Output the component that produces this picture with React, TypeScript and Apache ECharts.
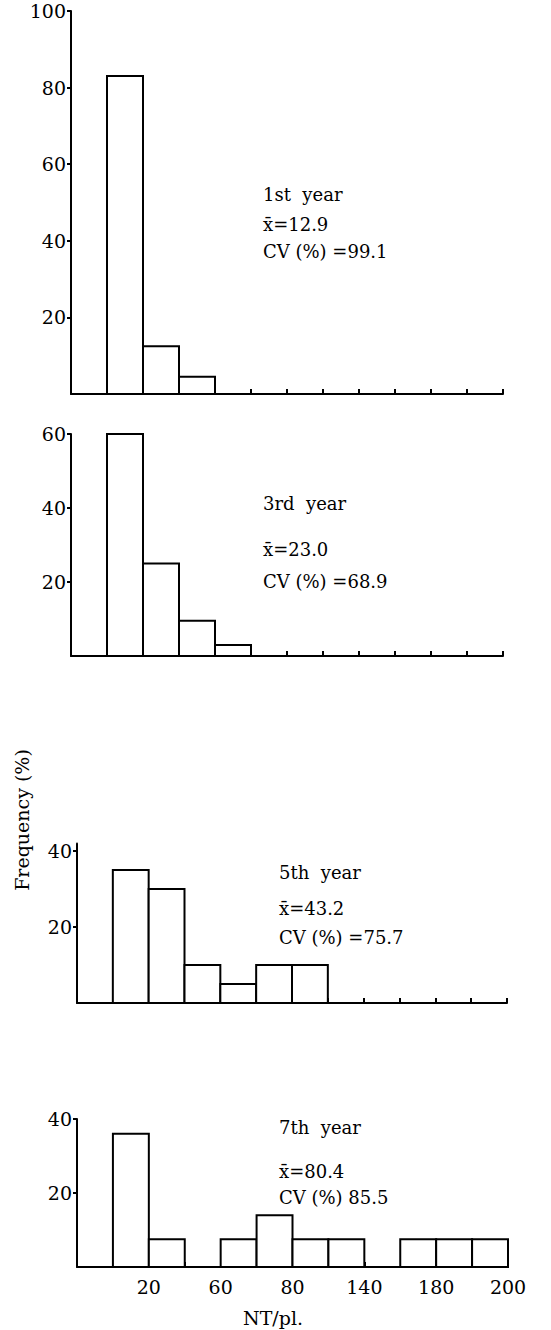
import React, { useEffect, useRef } from "react";
import * as echarts from "echarts";

// Bin index 0..11 along NT/pl.; bottom labels sit on bin edges
const binCount = 12;
const edgeLabels: Record<number, string> = { 2: "20", 4: "60", 6: "80", 8: "140", 10: "180", 12: "200" };

const year1 = [0, 83, 12.5, 4.5, 0, 0, 0, 0, 0, 0, 0, 0];
const year3 = [0, 60, 25, 9.5, 3, 0, 0, 0, 0, 0, 0, 0];
const year5 = [0, 35, 30, 10, 5, 10, 10, 0, 0, 0, 0, 0];
const year7 = [0, 36, 7.5, 0, 7.5, 14, 7.5, 7.5, 0, 7.5, 7.5, 7.5];

const yMax = [100, 60, 42, 40];
const yTicks = [
  [20, 40, 60, 80, 100],
  [20, 40, 60],
  [20, 40],
  [20, 40],
];

const panelTexts = [
  ["1st  year", "x\u0304=12.9", "CV (%) =99.1"],
  ["3rd  year", "x\u0304=23.0", "CV (%) =68.9"],
  ["5th  year", "x\u0304=43.2", "CV (%) =75.7"],
  ["7th  year", "x\u0304=80.4", "CV (%) 85.5"],
];

const FONT = "DejaVu Serif";

export default function App() {
  const ref = useRef<HTMLDivElement>(null);
  useEffect(() => {
    document.body.style.margin = "0";
    const chart = echarts.init(ref.current!, null, { renderer: "svg" });
    const grids = [
      { left: 71, top: 11, width: 432, height: 383 },
      { left: 71, top: 434, width: 432, height: 222 },
      { left: 77, top: 843.4, width: 430, height: 159.6 },
      { left: 77, top: 1119, width: 431, height: 148 },
    ];
    const allData = [year1, year3, year5, year7];
    const textPos = [
      { x: 263, ys: [194, 224, 251] },
      { x: 263, ys: [503, 549, 581] },
      { x: 279, ys: [872, 908, 937] },
      { x: 279, ys: [1127, 1171, 1197] },
    ];
    const graphics: any[] = [];
    panelTexts.forEach((lines, p) => {
      lines.forEach((t, k) => {
        graphics.push({
          type: "text",
          x: textPos[p].x,
          y: textPos[p].ys[k],
          style: { text: t, font: `18px "${FONT}"`, fill: "#000", textVerticalAlign: "middle", verticalAlign: "middle" },
        });
      });
    });
    graphics.push({
      type: "text",
      x: 22,
      y: 820,
      rotation: Math.PI / 2,
      style: { text: "Frequency (%)", font: `19px "${FONT}"`, fill: "#000", align: "center", verticalAlign: "middle" },
    });
    graphics.push({
      type: "text",
      x: 273,
      y: 1318,
      style: { text: "NT/pl.", font: `19px "${FONT}"`, fill: "#000", align: "center", verticalAlign: "middle" },
    });

    chart.setOption({
      animation: false,
      backgroundColor: "#fff",
      grid: grids,
      xAxis: grids.map((_, i) => ({
        type: "value",
        gridIndex: i,
        min: 0,
        max: binCount,
        interval: 1,
        splitLine: { show: false },
        axisLine: { show: true, lineStyle: { color: "#000", width: 2 } },
        axisTick: { show: true, inside: true, length: 5, lineStyle: { color: "#000", width: 2 } },
        axisLabel:
          i === 3
            ? {
                show: true,
                customValues: [2, 4, 6, 8, 10, 12],
                formatter: (v: number) => edgeLabels[v] ?? "",
                fontFamily: FONT,
                fontSize: 19,
                color: "#000",
                margin: 10,
              }
            : { show: false },
      })),
      yAxis: grids.map((_, i) => ({
        type: "value",
        gridIndex: i,
        min: 0,
        max: yMax[i],
        interval: 20,
        splitLine: { show: false },
        axisLine: { show: true, lineStyle: { color: "#000", width: 2 } },
        axisTick: { show: true, length: 4, customValues: yTicks[i], lineStyle: { color: "#000", width: 2 } },
        axisLabel: {
          show: true,
          customValues: yTicks[i],
          fontFamily: FONT,
          fontSize: 19,
          color: "#000",
          margin: 5,
        },
      })),
      series: allData.map((d, i) => ({
        type: "custom",
        xAxisIndex: i,
        yAxisIndex: i,
        data: d.map((v, k) => [k, v]),
        encode: { x: 0, y: 1 },
        renderItem: (params: any, api: any) => {
          const k = api.value(0);
          const v = api.value(1);
          if (!v) return null;
          const p0 = api.coord([k, v]);
          const p1 = api.coord([k + 1, 0]);
          return {
            type: "rect",
            shape: { x: p0[0], y: p0[1], width: p1[0] - p0[0], height: p1[1] - p0[1] },
            style: { fill: "#fff", stroke: "#000", lineWidth: 2 },
          };
        },
      })),
      graphic: graphics,
    });
    return () => chart.dispose();
  }, []);
  return <div ref={ref} style={{ width: 551, height: 1330 }} />;
}
